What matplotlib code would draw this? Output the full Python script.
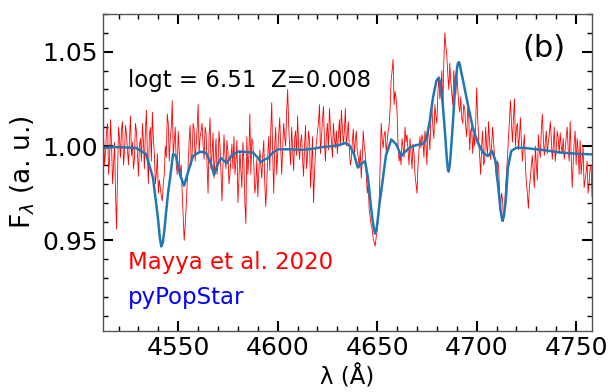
import numpy as np
import matplotlib
matplotlib.use('Agg')
import matplotlib.pyplot as plt

# observed spectrum (Mayya et al. 2020), read at whole angstroms from 4512
obs_start = 4512
obs_flux = [
    1.026, 0.990, 1.008, 0.985, 1.014, 0.980, 1.002, 0.956, 1.010, 0.994,
    1.013, 0.997, 1.006, 0.990, 1.016, 1.002, 0.993, 1.008, 0.984, 1.004,
    1.012, 0.988, 1.019, 0.980, 1.010, 1.018, 0.996, 0.985, 0.975, 0.978,
    0.971, 0.985, 0.994, 1.012, 1.004, 1.024, 1.002, 0.990, 1.008, 0.983,
    0.975, 0.950, 0.968, 0.990, 1.011, 0.996, 1.009, 1.000, 1.022, 1.005,
    1.012, 0.993, 1.007, 0.975, 1.015, 0.995, 0.983, 1.004, 0.990, 1.000,
    0.971, 1.006, 0.988, 0.997, 0.985, 1.001, 1.005, 0.992, 0.970, 0.998,
    0.978, 0.992, 0.959, 0.985, 1.017, 1.004, 0.990, 0.980, 0.973, 0.998,
    0.983, 1.003, 0.968, 0.995, 0.987, 1.023, 0.975, 1.010, 0.996, 1.015,
    0.985, 1.012, 1.000, 1.030, 0.999, 1.010, 0.987, 1.008, 1.016, 0.993,
    1.006, 0.984, 1.011, 0.995, 1.003, 0.990, 0.970, 0.998, 1.008, 1.022,
    1.005, 1.021, 0.992, 1.012, 1.020, 1.003, 1.012, 0.999, 0.996, 1.014,
    1.019, 1.001, 1.020, 1.006, 0.998, 0.993, 1.009, 1.003, 0.997, 0.989,
    0.983, 1.008, 0.996, 0.975, 0.966, 0.958, 0.951, 0.947, 0.955, 0.970,
    1.012, 0.999, 1.008, 1.002, 1.011, 1.035, 1.046, 1.029, 1.018, 0.992,
    0.990, 1.000, 1.010, 1.006, 0.990, 0.996, 1.001, 0.985, 0.975, 0.997,
    0.999, 1.003, 1.008, 0.990, 1.006, 1.015, 1.010, 1.022, 1.012, 1.037,
    1.030, 1.018, 1.060, 1.048, 1.030, 1.034, 1.022, 1.033, 1.039, 1.022,
    1.026, 1.012, 1.020, 1.005, 1.016, 1.008, 0.996, 1.000, 1.031, 1.004,
    0.985, 1.008, 0.992, 1.000, 1.013, 0.993, 1.010, 0.995, 0.982, 0.990,
    0.967, 0.972, 0.965, 0.985, 1.005, 1.024, 1.002, 1.025, 1.010, 0.998,
    1.015, 0.992, 1.006, 0.980, 0.967, 0.983, 0.995, 0.978, 0.990, 1.006,
    0.994, 1.017, 0.995, 1.008, 1.002, 1.013, 0.993, 1.010, 0.998, 1.004,
    1.007, 0.996, 0.993, 1.005, 0.998, 1.013, 0.978, 1.002, 0.990, 0.998,
    1.003, 0.992, 0.978, 0.986, 0.975, 0.988, 0.973,
]
# same spectrum, the pixels in between (4512.5, 4513.5, ...)
obs_flux_half = [
    1.004, 0.998, 1.012, 0.993, 1.000, 0.990, 0.975, 0.985, 1.004, 1.009,
    0.990, 1.011, 0.998, 1.004, 0.995, 0.988, 1.012, 0.997, 1.000, 0.992,
    1.003, 1.008, 0.995, 1.006, 0.992, 1.004, 0.980, 0.996, 0.982, 0.973,
    0.980, 1.000, 1.017, 0.992, 1.010, 0.995, 1.010, 0.985, 0.998, 0.990,
    0.962, 0.958, 0.980, 1.003, 0.990, 1.012, 0.992, 1.010, 0.996, 1.008,
    1.000, 1.010, 0.990, 1.005, 0.988, 1.007, 0.994, 0.985, 1.008, 0.985,
    0.990, 0.995, 1.003, 0.980, 0.994, 0.988, 0.985, 1.003, 0.982, 0.987,
    1.002, 0.970, 1.005, 0.995, 0.985, 1.002, 0.975, 0.993, 0.985, 0.990,
    0.995, 0.980, 0.980, 1.005, 1.008, 0.995, 1.000, 0.985, 1.005, 1.000,
    0.998, 1.005, 1.018, 1.012, 0.990, 0.998, 1.004, 0.995, 1.000, 1.002,
    0.993, 1.000, 0.988, 1.008, 0.978, 1.005, 0.985, 1.002, 1.012, 0.996,
    1.014, 1.002, 1.006, 0.998, 1.010, 0.994, 1.004, 1.008, 1.005, 1.000,
    1.010, 1.008, 1.000, 1.013, 0.990, 1.002, 0.995, 1.008, 0.994, 0.998,
    0.994, 1.000, 0.985, 0.980, 0.962, 0.956, 0.949, 0.952, 0.962, 0.990,
    1.004, 1.006, 0.997, 1.008, 1.020, 1.040, 1.022, 1.025, 1.000, 0.996,
    1.004, 0.994, 1.002, 0.998, 1.004, 0.988, 0.996, 0.980, 0.990, 1.005,
    1.006, 0.994, 1.002, 1.010, 0.998, 1.020, 1.004, 1.016, 1.028, 1.025,
    1.040, 1.045, 1.053, 1.038, 1.044, 1.028, 1.040, 1.027, 1.030, 1.018,
    1.015, 1.022, 1.010, 1.020, 0.998, 1.010, 1.006, 1.012, 1.015, 0.995,
    1.000, 0.990, 1.010, 0.996, 1.003, 1.000, 1.002, 0.988, 0.992, 0.975,
    0.975, 0.960, 0.978, 0.995, 1.015, 1.012, 1.015, 1.000, 1.012, 1.005,
    1.002, 1.000, 0.990, 0.975, 0.978, 0.990, 0.985, 1.000, 0.982, 0.998,
    1.008, 1.004, 1.002, 0.996, 1.006, 1.004, 1.000, 0.992, 1.008, 0.996,
    1.000, 1.004, 0.998, 1.010, 0.992, 0.995, 0.990, 1.008, 1.004, 0.985,
    0.985, 1.000, 0.982, 0.992, 0.980, 0.990,
]
wave_a = obs_start + np.arange(len(obs_flux))
wave_b = obs_start + 0.5 + np.arange(len(obs_flux_half))
obs_wave = np.concatenate([wave_a, wave_b])
obs_all = np.concatenate([obs_flux, obs_flux_half])
order = np.argsort(obs_wave)
obs_wave, obs_all = obs_wave[order], obs_all[order]

# pyPopStar model
mod_wave = [
    4512.2, 4518.2, 4523.3, 4528.8, 4533.8, 4537.3, 4539.8, 4540.8, 4541.5,
    4542.3, 4543.2, 4543.9, 4545.0, 4545.9, 4547.4, 4548.9, 4550.9, 4552.9,
    4554.9, 4557.4, 4560.9, 4564.0, 4566.5, 4568.0, 4569.5, 4571.5, 4573.5,
    4574.5, 4576.5, 4580.0, 4582.6, 4587.6, 4590.1, 4591.6, 4593.6, 4595.1,
    4597.6, 4600.1, 4606.2, 4612.7, 4617.7, 4622.8, 4627.8, 4630.3, 4632.8,
    4634.3, 4636.3, 4638.3, 4640.3, 4641.8, 4643.9, 4645.4, 4646.9, 4647.9,
    4648.9, 4649.7, 4650.4, 4651.2, 4651.9, 4652.9, 4654.4, 4657.1, 4659.6,
    4662.1, 4663.8, 4666.3, 4669.6, 4673.0, 4674.7, 4676.4, 4678.0, 4679.7,
    4680.4, 4681.0, 4681.7, 4682.7, 4683.9, 4685.1, 4685.6, 4685.9, 4686.5,
    4687.1, 4688.1, 4689.1, 4690.1, 4690.6, 4691.1, 4691.6, 4692.1, 4693.1,
    4695.6, 4698.1, 4700.6, 4703.2, 4705.7, 4707.8, 4709.5, 4711.2, 4712.0,
    4712.9, 4713.7, 4714.6, 4715.7, 4717.4, 4719.9, 4723.3, 4734.3, 4741.9,
    4749.4, 4757.9,
]
mod_flux = [
    0.9990, 0.9995, 0.9993, 0.9990, 0.9958, 0.9833, 0.9620, 0.9510, 0.9468,
    0.9490, 0.9570, 0.9650, 0.9760, 0.9830, 0.9958, 0.9947, 0.9850, 0.9790,
    0.9860, 0.9947, 0.9970, 0.9965, 0.9905, 0.9847, 0.9895, 0.9937, 0.9917,
    0.9910, 0.9947, 0.9970, 0.9970, 0.9965, 0.9937, 0.9916, 0.9930, 0.9935,
    0.9965, 0.9983, 0.9983, 0.9980, 0.9986, 0.9995, 1.0000, 1.0004, 1.0012,
    1.0017, 1.0000, 0.9958, 0.9886, 0.9904, 0.9920, 0.9830, 0.9675, 0.9590,
    0.9536, 0.9560, 0.9620, 0.9700, 0.9750, 0.9830, 0.9950, 1.0035, 1.0009,
    0.9947, 0.9968, 0.9991, 1.0005, 1.0012, 1.0035, 1.0132, 1.0254, 1.0342,
    1.0357, 1.0360, 1.0335, 1.0254, 1.0096, 0.9920, 0.9875, 0.9865, 0.9900,
    0.9980, 1.0130, 1.0300, 1.0410, 1.0440, 1.0445, 1.0430, 1.0400, 1.0351,
    1.0219, 1.0096, 1.0017, 0.9965, 0.9947, 0.9974, 0.9920, 0.9746, 0.9660,
    0.9605, 0.9630, 0.9710, 0.9886, 0.9974, 0.9991, 0.9991, 0.9978, 0.9966,
    0.9960, 0.9956,
]

plt.rcParams['font.family'] = 'DejaVu Sans'
fig = plt.figure(figsize=(6.11, 3.92), dpi=100)
ax = fig.add_axes([0.1686, 0.1556, 0.8004, 0.8087])

ax.plot(obs_wave, obs_all, color='red', lw=0.6)
ax.plot(mod_wave, mod_flux, color='#1f77b4', lw=1.8)

ax.set_xlim(4512.2, 4758)
ax.set_ylim(0.902, 1.069)
ax.set_xticks([4550, 4600, 4650, 4700, 4750])
ax.set_yticks([0.95, 1.00, 1.05])
ax.set_xticks(np.arange(4520, 4760, 10), minor=True)
ax.set_yticks(np.arange(0.91, 1.07, 0.01), minor=True)
ax.tick_params(which='both', direction='in', top=True, right=True, labelsize=18)
ax.tick_params(which='major', length=7, width=1.5)
ax.tick_params(which='minor', length=3.5, width=1)
for s in ax.spines.values():
    s.set_color('#555555')
    s.set_linewidth(1)

ax.set_xlabel('λ (Å)', fontsize=16.5)
ax.set_ylabel(r'F$_\lambda$ (a. u.)', fontsize=19)

ax.text(4524.8, 1.035, 'logt = 6.51  Z=0.008', fontsize=16.5, va='center')
ax.text(4723, 1.0516, '(b)', fontsize=22, va='center')
ax.text(4524.8, 0.9384, 'Mayya et al. 2020', color='red', fontsize=16.5, va='center')
ax.text(4524.8, 0.920, 'pyPopStar', color='blue', fontsize=16.5, va='center')

fig.savefig('out.png', dpi=100)
